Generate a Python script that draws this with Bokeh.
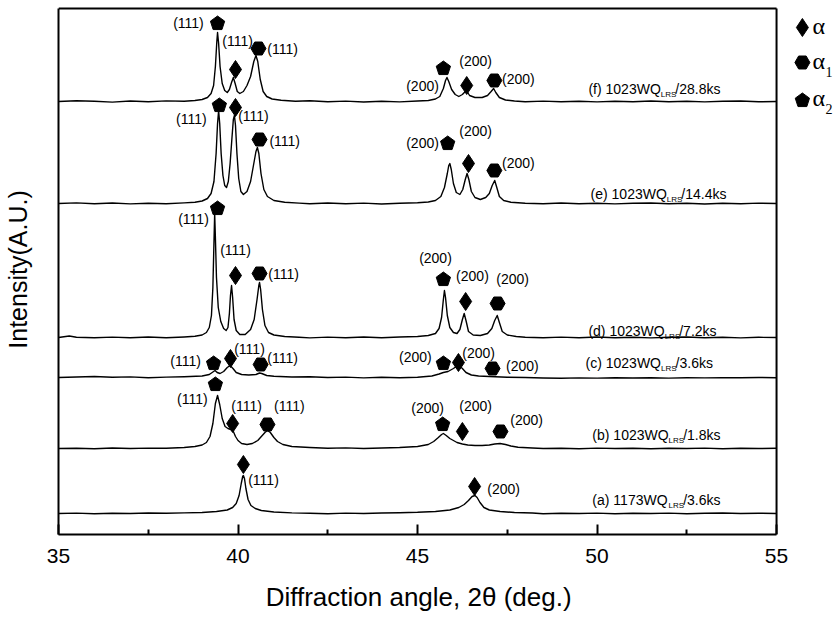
import math
from bokeh.plotting import figure
from bokeh.models import Range1d, FixedTicker
from bokeh.core.properties import value
from bokeh.embed import file_html
from bokeh.resources import INLINE

# ---------------- data ----------------
# Diffraction patterns: x (2theta, deg) and intensity above each pattern's baseline
sample_keys = ["a", "b", "c", "d", "e", "f"]
baselines = {"a": 21, "b": 86, "c": 157, "d": 197, "e": 331, "f": 433}

f_x = [35.0, 35.5, 36.0, 36.5, 37.0, 37.5, 38.0, 38.5, 38.8, 39.0, 39.15, 39.25, 39.32, 39.37, 39.41, 39.43, 39.46, 39.5, 39.56, 39.63, 39.7, 39.76, 39.82, 39.87, 39.92, 39.98, 40.05, 40.15, 40.25, 40.35, 40.44, 40.5, 40.55, 40.62, 40.7, 40.8, 40.95, 41.2, 41.6, 42.0, 42.5, 43.0, 43.5, 44.0, 44.5, 45.0, 45.3, 45.5, 45.62, 45.72, 45.78, 45.82, 45.87, 45.95, 46.05, 46.15, 46.25, 46.33, 46.38, 46.45, 46.6, 46.8, 46.95, 47.05, 47.12, 47.18, 47.28, 47.45, 47.7, 48.0, 48.5, 49.0, 49.5, 50.0, 50.5, 51.0, 51.5, 52.0, 52.5, 53.0, 53.5, 54.0, 54.5, 55.0]
f_y = [0, 0.8, 0.2, -0.6, 0.5, -0.3, 0.6, 0.2, 1.0, 2.0, 4, 8, 16, 35, 60, 69, 58, 35, 18, 11, 9, 12, 19, 24, 18, 10, 8, 10, 16, 25, 40, 46, 40, 22, 10, 5, 2.5, 1.2, 0.3, 0.8, -0.2, 0.4, -0.5, 0.3, -0.4, 0.5, 1.0, 2.5, 5, 13, 21, 24, 20, 12, 7, 5, 7, 10, 10, 6, 4, 4, 6, 10, 13, 9, 4, 1.5, 0.5, -0.3, 0.4, -0.2, 0.3, -0.4, 0.2, -0.3, 0.5, -0.2, 0.3, -0.4, 0.2, 0.5, -0.3, 0]

e_x = [35.0, 35.5, 36.0, 36.5, 37.0, 37.5, 38.0, 38.5, 38.8, 39.0, 39.15, 39.25, 39.33, 39.39, 39.43, 39.46, 39.49, 39.53, 39.58, 39.63, 39.68, 39.73, 39.78, 39.83, 39.87, 39.9, 39.93, 39.97, 40.02, 40.08, 40.15, 40.25, 40.35, 40.43, 40.5, 40.54, 40.58, 40.64, 40.72, 40.82, 41.0, 41.3, 41.7, 42.0, 42.5, 43.0, 43.5, 44.0, 44.5, 45.0, 45.3, 45.5, 45.65, 45.75, 45.83, 45.87, 45.9, 45.94, 46.0, 46.08, 46.18, 46.26, 46.33, 46.38, 46.43, 46.5, 46.6, 46.75, 46.9, 47.0, 47.08, 47.15, 47.2, 47.28, 47.4, 47.6, 48.0, 48.5, 49.0, 49.5, 50.0, 50.5, 51.0, 51.5, 52.0, 52.5, 53.0, 53.5, 54.0, 54.5, 55.0]
e_y = [0, 0.6, -0.3, 0.5, -0.4, 0.3, -0.2, 0.6, 1.2, 2.5, 5, 10, 22, 50, 80, 93, 80, 50, 28, 18, 16, 22, 40, 65, 84, 88, 78, 50, 25, 12, 9, 12, 22, 38, 52, 56, 50, 30, 14, 7, 3, 1.2, 0.4, -0.3, 0.5, -0.2, 0.4, -0.5, 0.3, 0.8, 1.5, 3, 7, 16, 30, 38, 40, 34, 20, 11, 9, 14, 24, 30, 24, 12, 6, 4, 6, 10, 18, 23, 17, 7, 3, 1.2, 0.3, -0.3, 0.5, -0.2, 0.3, -0.4, 0.2, 0.5, -0.3, 0.2, -0.5, 0.3, -0.2, 0.4, 0]

d_x = [35.0, 35.3, 35.5, 36.0, 36.5, 37.0, 37.5, 38.0, 38.5, 38.8, 39.0, 39.12, 39.2, 39.26, 39.3, 39.33, 39.35, 39.37, 39.4, 39.45, 39.52, 39.6, 39.67, 39.72, 39.76, 39.79, 39.82, 39.85, 39.89, 39.95, 40.05, 40.2, 40.35, 40.45, 40.53, 40.58, 40.6, 40.63, 40.68, 40.75, 40.85, 41.0, 41.3, 41.7, 42.0, 42.5, 43.0, 43.5, 44.0, 44.5, 45.0, 45.3, 45.5, 45.6, 45.67, 45.72, 45.75, 45.78, 45.83, 45.9, 46.0, 46.1, 46.18, 46.25, 46.3, 46.35, 46.42, 46.55, 46.75, 46.95, 47.07, 47.15, 47.22, 47.28, 47.36, 47.5, 47.75, 48.0, 48.5, 49.0, 49.5, 50.0, 50.5, 51.0, 51.5, 52.0, 52.5, 53.0, 53.5, 54.0, 54.5, 55.0]
d_y = [0, 1.5, 0.3, -0.3, 0.4, -0.2, 0.5, -0.3, 0.5, 1.2, 2.5, 5, 10, 22, 50, 95, 124, 100, 60, 30, 16, 9, 7, 10, 24, 42, 52, 40, 18, 7, 3, 3, 8, 18, 38, 52, 55, 48, 28, 12, 5, 2.5, 1, 0.3, -0.4, 0.4, -0.3, 0.5, -0.2, 0.5, 1, 2, 4, 9, 20, 38, 47, 40, 22, 10, 5, 4, 8, 18, 24, 17, 6, 2.5, 2, 4, 9, 17, 22, 15, 6, 2.5, 1, 0.3, -0.3, 0.4, -0.2, 0.5, -0.3, 0.3, -0.4, 0.2, 0.5, -0.2, 0.3, -0.4, 0.2, 0]

c_x = [35.0, 35.5, 36.0, 36.5, 37.0, 37.5, 38.0, 38.5, 39.0, 39.2, 39.3, 39.36, 39.42, 39.5, 39.6, 39.7, 39.78, 39.86, 39.95, 40.1, 40.3, 40.5, 40.6, 40.66, 40.8, 41.0, 41.5, 42.0, 42.5, 43.0, 43.5, 44.0, 44.5, 45.0, 45.4, 45.6, 45.72, 45.85, 46.0, 46.1, 46.16, 46.25, 46.35, 46.5, 46.7, 47.0, 47.5, 48.0, 48.5, 49.0, 49.5, 50.0, 50.5, 51.0, 51.5, 52.0, 52.5, 53.0, 53.5, 54.0, 54.5, 55.0]
c_y = [0, 0.5, 1.0, 0.3, 0.6, -0.2, 0.4, 0.8, 1.5, 3, 5.5, 7, 5, 4, 6, 10, 12, 9, 5, 3, 2.5, 3, 4.5, 4, 2, 1.2, 0.5, 0.8, 0, 0.4, -0.4, 0.2, -0.3, 0.3, 1.5, 3.5, 5, 6, 9, 11.5, 12, 9, 5, 2.5, 1.5, 1, 0.3, 0, -0.5, -0.8, -0.4, -0.6, -0.2, -0.5, -0.3, -0.6, -0.2, -0.4, -0.1, -0.3, 0, -0.2]

b_x = [35.0, 35.5, 36.0, 36.5, 37.0, 37.5, 38.0, 38.5, 38.8, 39.0, 39.12, 39.22, 39.3, 39.37, 39.43, 39.49, 39.56, 39.64, 39.72, 39.8, 39.87, 39.93, 40.0, 40.1, 40.25, 40.4, 40.55, 40.65, 40.75, 40.82, 40.9, 41.0, 41.1, 41.25, 41.5, 42.0, 42.5, 43.0, 43.5, 44.0, 44.5, 45.0, 45.3, 45.45, 45.58, 45.67, 45.72, 45.8, 45.9, 46.0, 46.1, 46.25, 46.4, 46.6, 46.8, 47.0, 47.15, 47.3, 47.45, 47.6, 47.8, 48.2, 48.5, 49.0, 49.5, 50.0, 50.5, 51.0, 51.5, 52.0, 52.5, 53.0, 53.5, 54.0, 54.5, 55.0]
b_y = [0, 0.3, -0.3, 0.5, 0, 0.4, 0.3, 1, 2, 3.5, 6, 12, 25, 45, 53, 44, 30, 22, 20, 19, 17, 12, 8, 5, 4, 5, 8, 12, 16, 18, 16, 11, 7, 4, 2, 1, 0.3, 0.6, 0, 0.5, 1, 2, 4, 7, 11, 14, 15, 13, 10, 8, 6, 4.5, 3.5, 3, 3, 3.5, 4.5, 5, 4, 2.5, 1.2, 0.5, 0, 0.3, -0.2, 0.4, 0, 0.3, -0.3, 0.2, 0, 0.4, -0.2, 0.3, 0, 0.2]

a_x = [35.0, 35.5, 36.0, 36.5, 37.0, 37.5, 38.0, 38.5, 39.0, 39.4, 39.7, 39.85, 39.95, 40.03, 40.09, 40.13, 40.15, 40.18, 40.22, 40.28, 40.36, 40.48, 40.65, 41.0, 41.5, 42.0, 42.5, 43.0, 43.5, 44.0, 44.5, 45.0, 45.5, 45.9, 46.15, 46.3, 46.42, 46.52, 46.6, 46.66, 46.74, 46.85, 47.0, 47.3, 47.7, 48.2, 48.5, 49.0, 49.5, 50.0, 50.5, 51.0, 51.5, 52.0, 52.5, 53.0, 53.5, 54.0, 54.5, 55.0]
a_y = [0, 0.4, -0.2, 0.3, 0, 0.5, 0.2, 0.6, 1, 2, 3.5, 6, 10, 18, 30, 37, 38, 35, 25, 14, 8, 5, 3, 1.5, 0.6, 0.3, -0.2, 0.4, 0, 0.5, 0.8, 1.2, 2, 3.5, 6, 9, 13, 17, 18, 16, 11, 6, 3.5, 2, 1, 0.5, -0.2, 0.3, 0, 0.4, -0.2, 0.3, 0, 0.4, -0.3, 0.2, 0.5, 0, 0.3, 0]

curves = {"a": (a_x, a_y), "b": (b_x, b_y), "c": (c_x, c_y),
          "d": (d_x, d_y), "e": (e_x, e_y), "f": (f_x, f_y)}

# phase markers (2theta, plot intensity)
alpha_x = [39.93, 46.37, 39.93, 46.42, 39.93, 46.34, 39.79, 46.14, 39.85, 46.25, 40.15, 46.59]
alpha_y = [465, 449, 427, 371, 259, 233, 176, 172, 111, 103, 70, 48]
alpha1_x = [40.57, 47.14, 40.60, 47.14, 40.60, 47.23, 40.63, 47.09, 40.82, 47.31]
alpha1_y = [486, 454, 395, 364, 261, 231, 170, 166, 110, 103]
alpha2_x = [39.43, 45.72, 39.48, 45.84, 39.43, 45.72, 39.32, 45.72, 39.37, 45.70]
alpha2_y = [512, 467, 430, 392, 327, 256, 172, 172, 151, 111]

# hkl labels
hkl_text = ["(111)", "(111)", "(111)", "(200)", "(200)", "(200)",
            "(111)", "(111)", "(111)", "(200)", "(200)", "(200)",
            "(111)", "(111)", "(111)", "(200)", "(200)", "(200)",
            "(111)", "(111)", "(111)", "(200)", "(200)", "(200)",
            "(111)", "(111)", "(111)", "(200)", "(200)", "(200)",
            "(111)", "(200)"]
hkl_x = [38.62, 39.99, 41.24, 45.14, 46.62, 47.81,
         38.70, 40.43, 41.30, 45.14, 46.62, 47.81,
         38.76, 39.93, 41.27, 45.50, 46.53, 47.65,
         38.54, 40.32, 41.24, 44.94, 46.70, 47.92,
         38.73, 40.24, 41.43, 45.28, 46.62, 48.04,
         40.71, 47.40]
hkl_y = [512, 494, 486, 449, 474, 456,
         416, 419, 394, 392, 404, 372,
         316, 285, 261, 277, 259, 256,
         174, 186, 177, 178, 182, 169,
         136, 129, 129, 127, 129, 115,
         55, 46]

# sample labels
sample_prefix = ["(a) 1173WQ", "(b) 1023WQ", "(c) 1023WQ", "(d) 1023WQ", "(e) 1023WQ", "(f) 1023WQ"]
sample_sub = ["LRS"] * 6
sample_suffix = ["/3.6ks", "/1.8ks", "/3.6ks", "/7.2ks", "/14.4ks", "/28.8ks"]
sample_x = [49.87, 49.87, 49.68, 49.76, 49.82, 49.76]
sample_y = [35, 100, 172, 204, 341, 446]

x_ticks = [35, 40, 45, 50, 55]
x_minor = [37.5, 42.5, 47.5, 52.5]
x_title = "Diffraction angle, 2θ (deg.)"
y_title = "Intensity(A.U.)"

# ---------------- layout ----------------
W, H = 836, 621
LEFT, TOP, BOTTOM = 58, 4, 87
X0, X1 = 35.0, 56.67
FRAME_W = W - LEFT
FRAME_H = H - TOP - BOTTOM
PXD = FRAME_W / (X1 - X0)
YTOP = FRAME_H - 4

SANS = "Liberation Sans"
SERIF = "Liberation Serif"

p = figure(width=W, height=H, output_backend="svg", toolbar_location=None,
           x_range=Range1d(X0, X1), y_range=Range1d(0, FRAME_H),
           min_border_left=LEFT, min_border_right=0, min_border_top=TOP,
           min_border_bottom=BOTTOM)
p.outline_line_color = None
p.xgrid.visible = False
p.ygrid.visible = False
p.background_fill_color = "white"
p.border_fill_color = "white"

# x axis
xa = p.xaxis[0]
xa.ticker = FixedTicker(ticks=x_ticks, minor_ticks=x_minor)
xa.bounds = (35, 55)
xa.axis_line_width = 2
xa.major_tick_line_width = 2
xa.minor_tick_line_width = 2
xa.major_tick_in = 10
xa.major_tick_out = 0
xa.minor_tick_in = 5
xa.minor_tick_out = 0
xa.major_label_text_font = SANS
xa.major_label_text_font_size = "21px"
xa.major_label_text_color = "black"
xa.major_label_standoff = 14
# trailing no-break spaces move the centred title onto the 35-55 box centre
xa.axis_label = x_title + "\u00a0" * 8
xa.axis_label_text_font = SANS
xa.axis_label_text_font_size = "26px"
xa.axis_label_text_font_style = "normal"
xa.axis_label_text_color = "black"
xa.axis_label_standoff = 16

# y axis
ya = p.yaxis[0]
ya.ticker = FixedTicker(ticks=[])
ya.bounds = (0, YTOP)
ya.axis_line_width = 2
ya.major_tick_line_color = None
ya.minor_tick_line_color = None
ya.major_label_text_font_size = "0px"
ya.major_label_standoff = 0
ya.axis_label = y_title
ya.axis_label_text_font = SANS
ya.axis_label_text_font_size = "25px"
ya.axis_label_text_font_style = "normal"
ya.axis_label_text_color = "black"
ya.axis_label_standoff = 27

# box: top and right borders
p.segment(x0=[35, 55], y0=[YTOP, 0], x1=[55, 55], y1=[YTOP, YTOP],
          line_color="black", line_width=2)

# curves
for k in sample_keys:
    xs, ys = curves[k]
    off = baselines[k]
    p.line(xs, [off + v for v in ys], line_color="black", line_width=1.4,
           line_join="round")

# markers
def pentagons(cx, cy, r=7.5):
    pxs, pys = [], []
    for x, y in zip(cx, cy):
        vx, vy = [], []
        for i in range(5):
            a = math.pi / 2 + i * 2 * math.pi / 5
            vx.append(x + r * math.cos(a) / PXD)
            vy.append(y + r * math.sin(a) - 1)
        pxs.append(vx)
        pys.append(vy)
    return pxs, pys

p.scatter(alpha_x, alpha_y, marker="diamond", size=18, fill_color="black", line_color="black")
p.scatter(alpha1_x, alpha1_y, marker="hex", size=15, fill_color="black", line_color="black")
px_, py_ = pentagons(alpha2_x, alpha2_y)
p.patches(px_, py_, fill_color="black", line_color="black")

# legend (drawn on the right, outside the 35-55 box)
LX = 55.72
p.scatter([LX], [507], marker="diamond", size=18, fill_color="black", line_color="black")
p.scatter([LX], [472], marker="hex", size=15, fill_color="black", line_color="black")
lpx, lpy = pentagons([LX], [435])
p.patches(lpx, lpy, fill_color="black", line_color="black")
lt_x = LX + 10 / PXD
p.text([lt_x, lt_x, lt_x], [509, 474, 437], text=["α", "α", "α"],
       text_font=value(SERIF), text_font_size=value("24px"),
       text_align="left", text_baseline="middle", text_color="black")
p.text([lt_x + 13 / PXD, lt_x + 13 / PXD], [463, 426], text=["1", "2"],
       text_font=value(SERIF), text_font_size=value("14px"),
       text_align="left", text_baseline="middle", text_color="black")

# hkl labels
p.text(hkl_x, hkl_y, text=hkl_text, text_font=value(SANS),
       text_font_size=value("14px"), text_align="center",
       text_baseline="middle", text_color="black")

# sample labels with subscript
AW = {"(": 333, ")": 333, " ": 278, "a": 556, "b": 556, "c": 500, "d": 556,
      "e": 556, "f": 278, "W": 944, "Q": 778, "L": 556, "R": 722, "S": 667,
      "/": 278, ".": 278, "k": 500, "s": 500}
def tw(s, size):
    return sum(AW.get(ch, 556) for ch in s) / 1000.0 * size

FS, SS = 14, 8
sub_x, suf_x, sub_y = [], [], []
for t, s, x, y in zip(sample_prefix, sample_sub, sample_x, sample_y):
    w1 = tw(t, FS)
    w2 = tw(s, SS)
    sub_x.append(x + w1 / PXD)
    suf_x.append(x + (w1 + w2 - 1) / PXD)
    sub_y.append(y - 6)
p.text(sample_x, sample_y, text=sample_prefix, text_font=value(SANS),
       text_font_size=value("14px"), text_align="left",
       text_baseline="middle", text_color="black")
p.text(sub_x, sub_y, text=sample_sub, text_font=value(SANS),
       text_font_size=value("8px"), text_align="left",
       text_baseline="middle", text_color="black")
p.text(suf_x, sample_y, text=sample_suffix, text_font=value(SANS),
       text_font_size=value("14px"), text_align="left",
       text_baseline="middle", text_color="black")

open("out.html", "w").write(file_html(p, INLINE))
